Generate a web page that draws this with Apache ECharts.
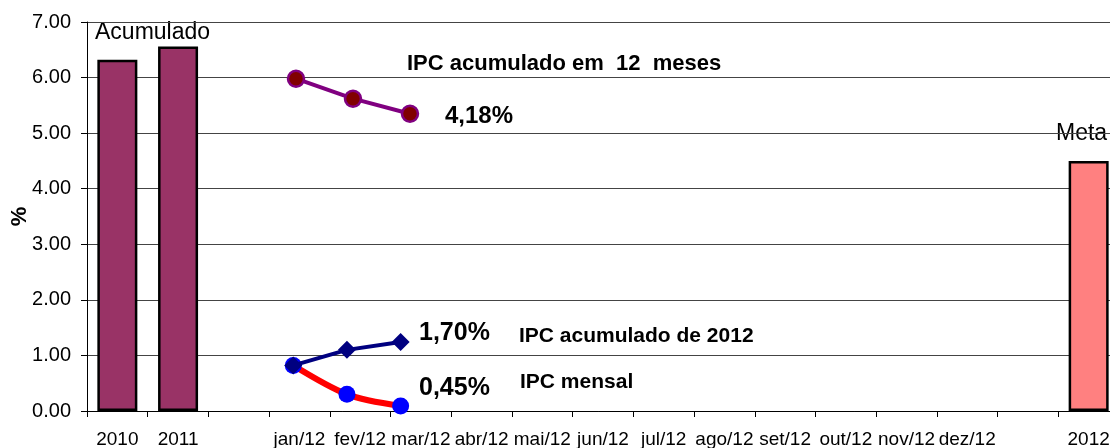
<!DOCTYPE html>
<html>
<head>
<meta charset="utf-8">
<script src="https://cdn.jsdelivr.net/npm/echarts@6/dist/echarts.min.js"></script>
<style>
html,body{margin:0;padding:0;background:#fff;}
#chart{width:1110px;height:448px;}
</style>
</head>
<body>
<div id="chart"></div>
<script>
// ---- data ----
var annualCats = ['2010', '2011'];
var annualValues = [6.32, 6.56];
var months = ['jan/12','fev/12','mar/12','abr/12','mai/12','jun/12','jul/12','ago/12','set/12','out/12','nov/12','dez/12'];
var metaCat = '2012';
var metaValue = 4.5;
var ipc12Meses = [5.98, 5.62, 5.35];
var ipcAcum2012 = [0.82, 1.10, 1.24];
var ipcMensal = [0.82, 0.30, 0.09];
var yTicks = [0, 1, 2, 3, 4, 5, 6, 7];

// ---- build ----
var categories = annualCats.concat([' '], months, ['  '], [metaCat]);

function barData() {
  return categories.map(function (c) {
    var i = annualCats.indexOf(c);
    if (i >= 0) return annualValues[i];
    if (c === metaCat) return metaValue;
    return '-';
  });
}
// monthly points: [month index, value] on the secondary (hidden) month scales
function monthPairs(arr) {
  return arr.map(function (v, m) { return [m, v]; });
}

var FONT = "'Liberation Sans', Arial, sans-serif";
var chart = echarts.init(document.getElementById('chart'), null, {renderer: 'canvas'});

var hiddenAxis = {
  type: 'value', show: false, axisLine: {show: false, onZero: false}, axisTick: {show: false},
  axisLabel: {show: false}, splitLine: {show: false}
};

chart.setOption({
  animation: false,
  backgroundColor: '#ffffff',
  grid: {left: 87, top: 22, bottom: 37, width: 1032, containLabel: false, outerBoundsMode: 'none'},
  xAxis: [
    {
      type: 'category',
      data: categories,
      boundaryGap: true,
      axisLine: {onZero: false, lineStyle: {color: '#000', width: 1}},
      axisTick: {show: true, interval: 0, length: 6, lineStyle: {color: '#000'}},
      axisLabel: {interval: 0, color: '#000', fontSize: 19, fontFamily: FONT, margin: 19},
      splitLine: {show: false}
    },
    Object.assign({}, hiddenAxis, {min: -3.667, max: 14.44}),
    Object.assign({}, hiddenAxis, {min: -3.842, max: 15.38})
  ],
  yAxis: {
    type: 'value',
    position: 'left',
    min: yTicks[0],
    max: yTicks[yTicks.length - 1],
    interval: 1,
    name: '%',
    nameLocation: 'middle',
    nameRotate: 90,
    nameGap: 56,
    nameMoveOverlap: false,
    nameTextStyle: {color: '#000', fontSize: 22, fontWeight: 'bold', fontFamily: FONT},
    axisLine: {show: true, onZero: false, lineStyle: {color: '#000', width: 1}},
    axisTick: {show: true, length: 6, lineStyle: {color: '#000'}},
    axisLabel: {color: '#000', fontSize: 20, fontFamily: FONT, margin: 16,
      formatter: function (v) { return v.toFixed(2); }},
    splitLine: {show: true, lineStyle: {color: '#444', width: 1}}
  },
  series: [
    {
      type: 'bar',
      data: barData(),
      barWidth: 40,
      itemStyle: {
        color: function (p) { return p.name === metaCat ? '#FF8080' : '#993366'; },
        borderColor: '#000',
        borderWidth: 2.5
      }
    },
    {
      type: 'line',
      name: 'IPC acumulado em 12 meses',
      xAxisIndex: 1,
      data: monthPairs(ipc12Meses),
      symbol: 'circle',
      symbolSize: 16,
      itemStyle: {color: '#800000', borderColor: '#800080', borderWidth: 2.5},
      lineStyle: {color: '#800080', width: 4},
      z: 5
    },
    {
      type: 'line',
      name: 'IPC mensal',
      xAxisIndex: 2,
      data: monthPairs(ipcMensal),
      smooth: 0.3,
      symbol: 'circle',
      symbolSize: 17,
      itemStyle: {color: '#0000FF'},
      lineStyle: {color: '#FF0000', width: 6},
      z: 5
    },
    {
      type: 'line',
      name: 'IPC acumulado de 2012',
      xAxisIndex: 2,
      data: monthPairs(ipcAcum2012),
      symbol: 'diamond',
      symbolSize: 18,
      itemStyle: {color: '#000080'},
      lineStyle: {color: '#000080', width: 4},
      z: 6
    }
  ],
  graphic: [
    {type: 'text', left: 95, top: 21, style: {text: 'Acumulado', font: '23px ' + FONT, fill: '#000'}},
    {type: 'text', left: 1056, top: 122, style: {text: 'Meta', font: '23px ' + FONT, fill: '#000'}},
    {type: 'text', left: 407, top: 53, style: {text: 'IPC acumulado em  12  meses', font: 'bold 22px ' + FONT, fill: '#000'}},
    {type: 'text', left: 445, top: 104, style: {text: '4,18%', font: 'bold 24px ' + FONT, fill: '#000'}},
    {type: 'text', left: 419, top: 321, style: {text: '1,70%', font: 'bold 25px ' + FONT, fill: '#000'}},
    {type: 'text', left: 519, top: 326, style: {text: 'IPC acumulado de 2012', font: 'bold 21px ' + FONT, fill: '#000'}},
    {type: 'text', left: 419, top: 376, style: {text: '0,45%', font: 'bold 25px ' + FONT, fill: '#000'}},
    {type: 'text', left: 520, top: 372, style: {text: 'IPC mensal', font: 'bold 21px ' + FONT, fill: '#000'}}
  ]
});
</script>
</body>
</html>
